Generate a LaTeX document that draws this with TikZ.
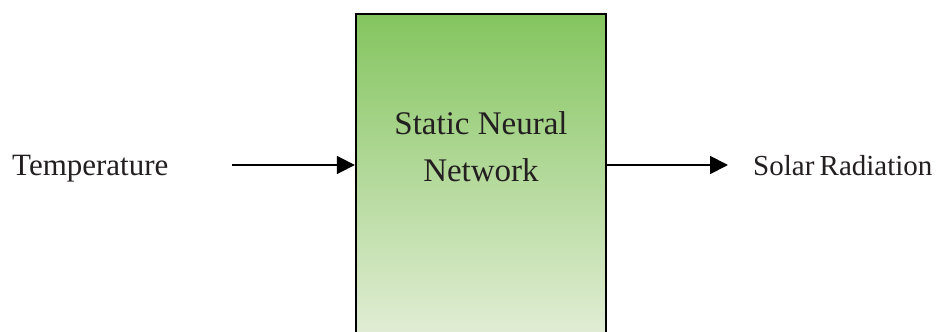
\documentclass[tikz,border=0pt]{standalone}
\usepackage{fontspec}
\setmainfont{Liberation Serif}
\usetikzlibrary{arrows.meta}
\definecolor{gtop}{RGB}{132,197,95}
\definecolor{gbot}{RGB}{228,238,216}
\definecolor{txt}{RGB}{35,31,32}
\tikzset{
  netbox/.style={draw=black, line width=2.4pt, top color=gtop, bottom color=gbot,
    minimum width=250pt, minimum height=330pt, inner sep=0pt},
  lbl/.style={font=\fontsize{29}{35}\selectfont, text=txt, inner sep=0pt},
  boxtxt/.style={font=\fontsize{33}{47}\selectfont, text=txt, align=center, inner sep=0pt},
  arr/.style={line width=1.9pt, -{Triangle[length=18pt,width=18pt]}}
}
\begin{document}
\begin{tikzpicture}[x=1pt,y=1pt]
\useasboundingbox (0,0) rectangle (943,332);
\fill[white] (0,0) rectangle (943,332);
\clip (0,0) rectangle (943,332);
\node[netbox] (net) at (481,153) {};
\node[boxtxt, anchor=base] (nettxt) at (481,150) {Static Neural\\Network};
\node[lbl, font=\fontsize{31}{37}\selectfont, anchor=base west] (tin) at (12,156) {Temperature};
\node[lbl, anchor=base west] (tout) at (753,156) {Solar\hspace{-2pt} Radiation};
\coordinate (a1) at (232,167);
\coordinate (a2) at (728,167);
\draw[arr] (a1) -- (a1 -| net.west);
\draw[arr] (a2 -| net.east) -- (a2);
\end{tikzpicture}
\end{document}
